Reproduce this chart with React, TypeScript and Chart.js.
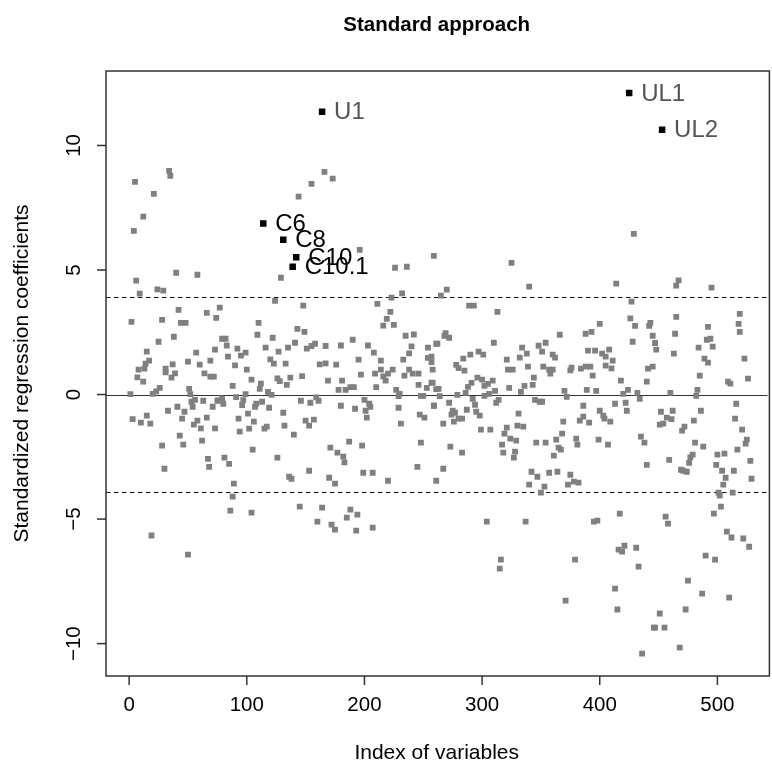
import React, { useEffect, useRef } from 'react';
import { Chart, registerables } from 'chart.js';
Chart.register(...registerables);

const TITLE = 'Standard approach';
const X_TITLE = 'Index of variables';
const Y_TITLE = 'Standardized regression coefficients';
const X_TICKS = [0, 100, 200, 300, 400, 500];
const Y_TICKS = [-10, -5, 0, 5, 10];
const THRESHOLD = 3.9;

// highlighted variables
const markedNames = ['U1', 'UL1', 'UL2', 'C6', 'C8', 'C10', 'C10.1'];
const markedIndex = [164, 425, 453, 114, 131, 142, 139];
const markedValue = [11.35, 12.11, 10.63, 6.87, 6.21, 5.51, 5.13];

// other variables: [index, coefficient]
const otherCoefficients: [number, number][] = [
  [34,8.98],[35,8.78],[5,8.54],[21,8.06],[12,7.14],[4,6.57],[40,4.89],[58,4.81],[6,4.57],[9,4.05],[24,4.22],[29,4.17],[42,3.40],[77,3.49],[66,3.28],[74,3.08],[2,2.92],[28,3.00],[44,2.88],[48,2.88],[38,2.32],[25,2.12],[15,1.72],[57,1.68],[73,1.80],[17,1.36],[14,1.24],[37,1.21],[50,1.32],[60,1.20],[69,1.36],[8,1.00],[13,1.04],[31,1.04],
  [31,0.89],[39,0.85],[7,0.69],[12,0.52],[36,0.68],[64,0.85],[69,0.72],[72,0.72],[1,0.02],[20,0.03],[23,0.13],[26,0.27],[51,0.23],[52,0.02],[56,-0.21],[53,-0.29],[63,-0.25],[75,-0.25],[41,-0.49],[33,-0.65],[47,-0.69],[54,-0.49],[71,-0.49],[15,-0.85],[3,-0.99],[10,-1.13],[18,-1.17],[45,-0.97],[58,-1.05],[66,-0.93],[55,-1.21],[61,-1.36],[73,-1.36],[43,-1.65],[62,-1.85],[28,-2.05],[46,-2.01],[67,-2.58],[68,-2.90],[30,-2.98],[19,-5.66],[50,-6.43],
  [166,8.94],[155,8.46],[144,7.95],[129,4.69],[124,3.76],[148,3.57],[110,2.88],[109,2.40],[79,2.24],[82,2.24],[122,2.28],[143,2.64],[149,2.52],[83,1.97],[92,1.84],[99,1.68],[95,1.56],[84,1.52],[116,1.88],[127,1.72],[135,1.88],[141,2.08],[151,1.84],[155,1.95],[158,2.04],[90,1.17],[100,1.00],[120,1.41],[123,1.24],[133,1.24],[162,1.21],
  [104,0.60],[88,0.35],[112,0.44],[111,0.23],[126,0.65],[128,0.54],[137,0.68],[134,0.39],[147,0.74],[118,0.11],[121,-0.01],[99,0.02],[91,-0.10],[79,-0.15],[76,-0.23],[80,-0.37],[97,-0.22],[96,-0.42],[108,-0.37],[107,-0.49],[113,-0.29],[119,-0.53],[146,-0.25],[154,-0.33],[159,-0.11],[161,-0.25],[93,-0.97],[101,-0.77],[106,-1.09],[131,-0.73],[94,-1.49],[102,-1.37],[115,-1.37],[117,-1.29],[132,-1.25],[140,-1.61],[150,-1.05],[157,-1.01],[153,-1.25],[105,-2.21],[81,-2.53],[85,-2.78],[126,-2.53],[153,-3.06],[136,-3.30],[138,-3.38],[89,-3.58],[88,-4.10],[86,-4.66],[104,-4.74],[145,-4.50],[164,-4.54],[160,-5.10],
  [173,8.67],[196,5.81],[226,5.09],[236,5.13],[259,5.57],[232,4.06],[223,3.89],[211,3.64],[222,3.32],[219,3.04],[216,2.77],[225,2.80],[235,2.36],[242,2.41],[190,2.20],[167,1.95],[180,1.97],[203,1.97],[208,1.68],[240,1.93],[238,1.65],[254,1.88],[261,2.04],[167,1.25],[176,1.20],[195,1.40],[214,1.36],[233,1.40],[254,1.47],[257,1.30],[214,1.00],[224,1.00],[238,1.00],
  [197,0.80],[169,0.56],[181,0.56],[178,0.19],[184,0.19],[188,0.30],[191,0.30],[209,0.84],[216,0.73],[218,0.56],[220,0.84],[210,0.30],[234,0.76],[241,0.84],[246,0.84],[246,0.39],[257,0.48],[253,0.27],[258,1.00],[227,0.19],[230,0.03],[229,-0.06],[248,-0.05],[250,-0.05],[261,0.22],[200,-0.21],[204,-0.37],[205,-0.49],[180,-0.45],[192,-0.57],[201,-0.65],[202,-0.93],[229,-0.53],[259,-0.45],[247,-0.81],[251,-0.93],[231,-1.17],[187,-1.89],[198,-2.05],[171,-2.13],[177,-2.33],[182,-2.49],[183,-2.72],[248,-1.93],[245,-2.90],[199,-3.14],[207,-3.14],[220,-3.46],[170,-3.34],[175,-3.58],[261,-3.46],[188,-4.62],[185,-4.94],[194,-4.82],[172,-5.22],[175,-5.42],[193,-5.46],[207,-5.34],
  [325,5.29],[340,4.33],[270,4.21],[265,3.97],[289,3.57],[293,3.57],[313,3.32],[310,2.08],[262,2.04],[269,2.47],[268,2.36],[272,2.28],[257,1.52],[284,1.44],[290,1.60],[297,1.72],[301,1.60],[278,1.19],[280,1.06],[285,0.96],[321,1.40],[334,1.88],[338,1.64],[332,1.48],[322,1.00],[326,1.00],[339,1.12],[348,1.96],[351,1.72],[354,2.08],[352,1.12],
  [258,0.47],[263,0.23],[264,-0.06],[279,-0.01],[286,0.07],[288,0.31],[291,0.47],[296,0.68],[300,0.60],[302,0.35],[305,0.43],[309,0.56],[302,-0.05],[306,0.03],[311,0.15],[323,0.27],[333,0.11],[336,0.35],[344,0.68],[343,0.39],[259,-0.45],[272,-0.33],[292,-0.17],[294,-0.41],[312,-0.33],[314,-0.21],[345,-0.21],[349,-0.29],[275,-0.65],[277,-0.73],[274,-0.81],[287,-0.61],[295,-0.69],[298,-0.85],[280,-0.97],[283,-0.97],[276,-1.09],[267,-1.17],[331,-0.77],[299,-1.41],[307,-1.41],[321,-1.33],[319,-1.57],[330,-1.25],[335,-1.29],[324,-1.77],[329,-1.85],[317,-2.01],[318,-2.33],[328,-2.29],[327,-2.53],[273,-2.09],[283,-2.33],[346,-1.93],[354,-1.93],[267,-2.98],[342,-3.10],[347,-3.30],[340,-3.62],[353,-3.70],[350,-3.94],[304,-5.10],[337,-5.10],[316,-6.63],[315,-6.99],
  [429,6.45],[414,4.45],[427,3.73],[366,2.40],[388,2.44],[393,2.52],[400,2.84],[426,3.06],[430,2.76],[428,2.12],[443,2.88],[442,2.76],[445,2.36],[360,1.60],[362,1.48],[390,1.76],[396,1.76],[402,1.64],[405,1.52],[408,1.80],[411,1.36],[447,2.07],[448,1.80],[357,1.00],[360,1.00],[376,1.08],[375,0.97],[384,1.04],[388,1.12],[392,1.12],[405,1.16],[410,1.05],[441,1.04],[445,1.12],
  [358,0.84],[394,0.76],[418,0.56],[440,0.52],[370,0.15],[372,-0.09],[389,0.19],[397,0.15],[420,0.03],[424,0.19],[432,0.07],[434,-0.17],[351,-0.29],[386,-0.45],[413,-0.37],[422,-0.33],[400,-0.65],[403,-0.85],[404,-0.97],[423,-0.65],[386,-0.89],[383,-1.05],[391,-1.13],[409,-1.09],[369,-1.09],[368,-1.57],[363,-1.81],[380,-1.77],[381,-2.01],[399,-1.81],[407,-2.01],[365,-2.13],[367,-2.21],[435,-1.69],[438,-1.93],[361,-2.45],[440,-2.82],[357,-3.14],[364,-3.10],[375,-3.22],[373,-3.62],[378,-3.50],[382,-3.54],[417,-4.78],[395,-5.10],[398,-5.06],[416,-6.23],[421,-6.07],[419,-6.31],[431,-6.15],[379,-6.63],[433,-6.91],[413,-7.79],[371,-8.27],[415,-8.63],[446,-9.36],[436,-10.40],
  [467,4.58],[465,4.37],[495,4.29],[465,3.12],[464,2.44],[463,1.64],[492,2.72],[491,2.20],[494,2.24],[484,1.88],[496,1.92],[519,3.24],[518,2.84],[519,2.52],[489,1.44],[492,1.28],[523,1.44],
  [485,0.76],[509,0.52],[511,0.44],[526,0.64],[483,0.19],[482,-0.05],[460,0.07],[516,-0.37],[452,-0.69],[462,-0.65],[486,-0.65],[457,-0.93],[461,-0.99],[451,-1.21],[454,-1.17],[480,-1.05],[515,-0.97],[472,-1.29],[470,-1.45],[521,-1.41],[525,-1.81],[524,-1.97],[517,-2.21],[481,-1.93],[488,-2.09],[459,-2.62],[479,-2.41],[477,-2.52],[476,-2.74],[500,-2.41],[506,-2.37],[528,-2.66],[499,-2.82],[504,-3.06],[514,-3.06],[469,-3.02],[474,-3.10],[471,-3.06],[529,-3.38],[507,-3.34],[505,-3.62],[501,-3.94],[502,-4.06],[513,-3.94],[503,-4.50],[497,-4.78],[456,-4.90],[458,-5.18],[508,-5.50],[512,-5.74],[522,-5.78],[527,-6.11],[490,-6.47],[498,-6.63],[475,-7.47],[487,-7.99],[510,-8.15],[473,-8.63],[451,-8.79],[447,-9.36],[455,-9.36],[468,-10.16],
];

const FONT = "'Liberation Sans', Arial, Helvetica, sans-serif";

const rAxesPlugin = {
  id: 'rAxes',
  beforeDatasetsDraw(chart: any) {
    const { ctx, chartArea: a, scales } = chart;
    const ys = scales.y;
    ctx.save();
    ctx.strokeStyle = '#333';
    ctx.lineWidth = 1.2;
    const y0 = Math.round(ys.getPixelForValue(0)) + 0.5;
    ctx.beginPath(); ctx.moveTo(a.left, y0); ctx.lineTo(a.right, y0); ctx.stroke();
    ctx.strokeStyle = '#111';
    ctx.setLineDash([4.5, 3.5]);
    for (const t of [THRESHOLD, -THRESHOLD]) {
      const yy = Math.round(ys.getPixelForValue(t)) + 0.5;
      ctx.beginPath(); ctx.moveTo(a.left, yy); ctx.lineTo(a.right, yy); ctx.stroke();
    }
    ctx.restore();
  },
  afterDraw(chart: any) {
    const { ctx, chartArea: a, scales } = chart;
    const xs = scales.x, ys = scales.y;
    ctx.save();
    ctx.strokeStyle = '#333';
    ctx.lineWidth = 1.5;
    ctx.strokeRect(a.left, a.top, a.right - a.left + 2, a.bottom - a.top);
    ctx.fillStyle = '#000';
    ctx.font = `20.5px ${FONT}`;
    ctx.textAlign = 'center';
    ctx.textBaseline = 'middle';
    for (const t of X_TICKS) {
      const x = xs.getPixelForValue(t);
      ctx.beginPath(); ctx.moveTo(x, a.bottom); ctx.lineTo(x, a.bottom + 9); ctx.stroke();
      ctx.fillText(String(t), x, a.bottom + 29);
    }
    for (const t of Y_TICKS) {
      const y = ys.getPixelForValue(t);
      ctx.beginPath(); ctx.moveTo(a.left, y); ctx.lineTo(a.left - 9, y); ctx.stroke();
      ctx.save();
      ctx.translate(a.left - 32, y);
      ctx.rotate(-Math.PI / 2);
      ctx.fillText(t < 0 ? '\u2212' + Math.abs(t) : String(t), 0, 0);
      ctx.restore();
    }
    const cx = (a.left + a.right) / 2;
    const cy = (a.top + a.bottom) / 2;
    ctx.font = `21px ${FONT}`;
    ctx.fillText(X_TITLE, cx, a.bottom + 77);
    ctx.save();
    ctx.translate(22, cy);
    ctx.rotate(-Math.PI / 2);
    ctx.fillText(Y_TITLE, 0, 0);
    ctx.restore();
    ctx.font = `bold 20.5px ${FONT}`;
    ctx.fillText(TITLE, cx, 25);
    ctx.font = `24px ${FONT}`;
    ctx.textAlign = 'left';
    markedNames.forEach((name, i) => {
      const px = xs.getPixelForValue(markedIndex[i]);
      const py = ys.getPixelForValue(markedValue[i]);
      ctx.fillStyle = name.startsWith('U') ? '#555555' : '#000000';
      ctx.fillText(name, px + 12, py + 1);
    });
    ctx.restore();
  },
};

export default function App() {
  const ref = useRef<HTMLCanvasElement>(null);
  useEffect(() => {
    if (!ref.current) return;
    const chart = new Chart(ref.current, {
      type: 'scatter',
      data: {
        datasets: [
          {
            data: otherCoefficients.map(([x, y]) => ({ x, y })),
            backgroundColor: '#808080',
            pointStyle: 'rect',
            pointRadius: 4.1,
            borderWidth: 0,
          },
          {
            data: markedIndex.map((x, i) => ({ x, y: markedValue[i] })),
            backgroundColor: '#000000',
            pointStyle: 'rect',
            pointRadius: 4.6,
            borderWidth: 0,
          },
        ],
      },
      options: {
        responsive: false,
        animation: false,
        events: [],
        layout: { padding: { left: 106, top: 71, right: 0, bottom: 92 } },
        scales: {
          x: { type: 'linear', min: -19.67, max: 542.5, display: false },
          y: { type: 'linear', min: -11.3, max: 12.99, display: false },
        },
        plugins: { legend: { display: false }, tooltip: { enabled: false } },
      },
      plugins: [rAxesPlugin],
    } as any);
    return () => chart.destroy();
  }, []);
  return (
    <div style={{ position: 'fixed', left: 0, top: 0, width: 772, height: 768, background: '#fff' }}>
      <canvas ref={ref} width={772} height={768} />
    </div>
  );
}
